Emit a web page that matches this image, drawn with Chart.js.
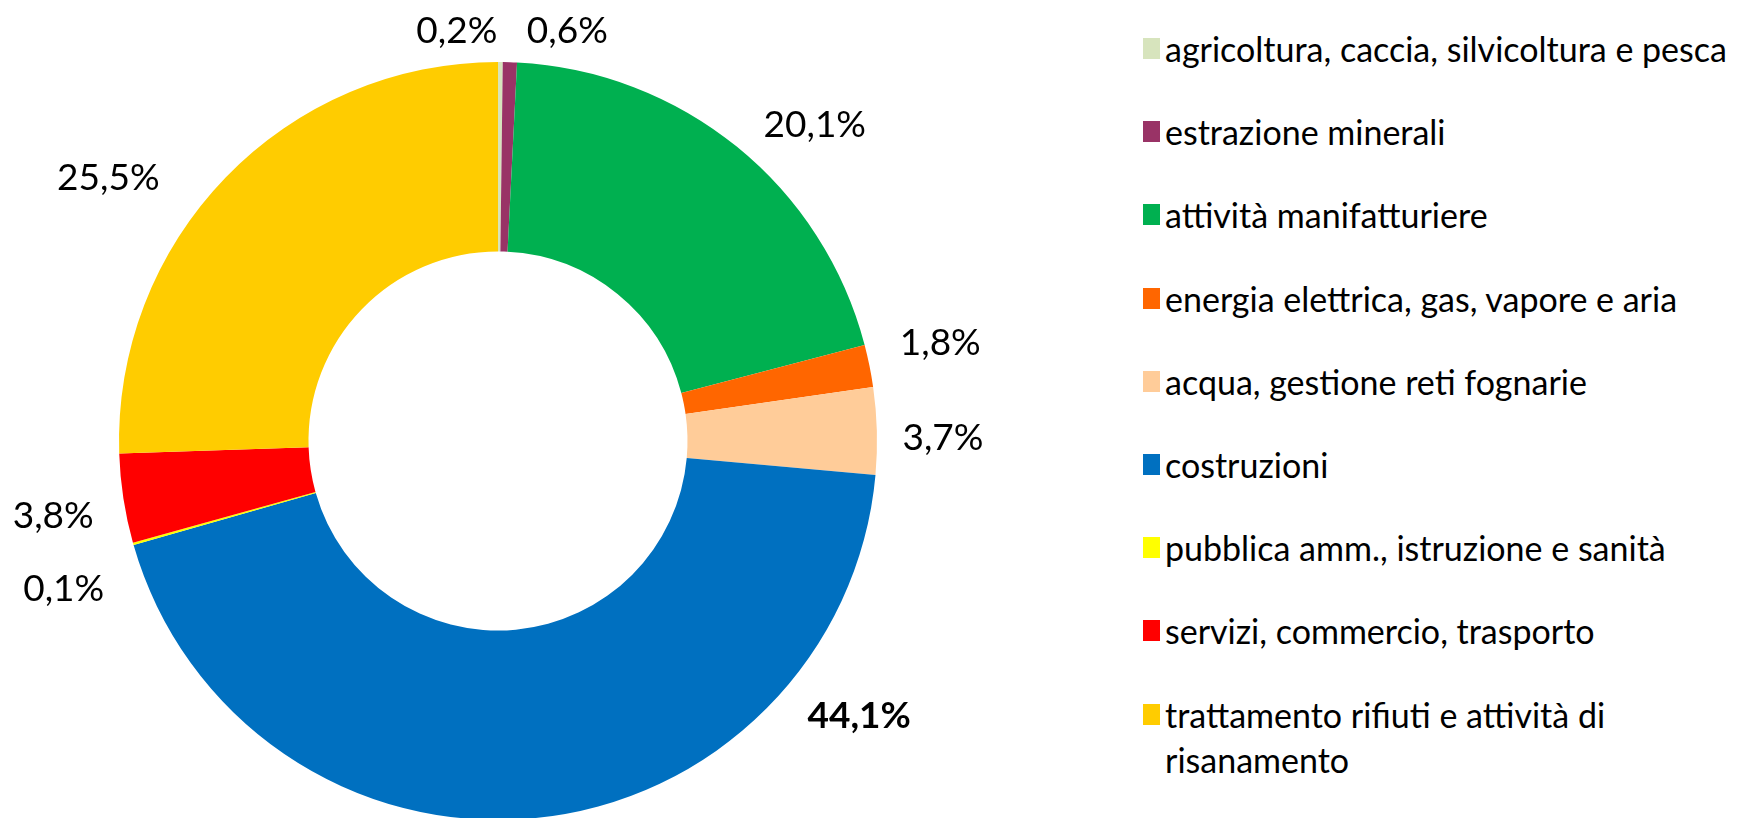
<!DOCTYPE html>
<html>
<head>
<meta charset="utf-8">
<script src="https://cdn.jsdelivr.net/npm/chart.js@4"></script>
<style>
  body { margin: 0; width: 1748px; height: 818px; overflow: hidden; background: #fff; font-family: Lato, sans-serif; }
  #wrap { position: absolute; left: 0; top: 0; width: 996px; height: 882px; }
  #legend { position: absolute; left: 1143px; top: 26px; width: 640px; margin: 0; padding: 0; list-style: none; }
  #legend li { display: flex; align-items: flex-start; height: 83.2px; font-size: 34px; line-height: 45px; color: #000; }
  #legend .box { width: 17px; height: 21px; margin: 12px 5px 0 0; flex: none; }
  #legend .txt { width: 590px; flex: none; }
</style>
</head>
<body>
<div id="wrap"><canvas id="pie" width="996" height="882"></canvas></div>
<ul id="legend"></ul>
<script>
const sectors = [
  'agricoltura, caccia, silvicoltura e pesca',
  'estrazione minerali',
  'attività manifatturiere',
  'energia elettrica, gas, vapore e aria',
  'acqua, gestione reti fognarie',
  'costruzioni',
  'pubblica amm., istruzione e sanità',
  'servizi, commercio, trasporto',
  'trattamento rifiuti e attività di risanamento'
];
const shares = [0.2, 0.6, 20.1, 1.8, 3.7, 44.1, 0.1, 3.8, 25.5];
const colors = ['#D7E4BD', '#993366', '#00B050', '#FF6600', '#FFCC99', '#0070C0', '#FFFF00', '#FF0000', '#FFCC00'];

// label nudges: [angle shift in degrees, distance as a fraction of the outer radius]
const labelPlacement = [
  [-6.1, 1.087], [7.8, 1.097], [6, 1.18], [-1, 1.195], [1.2, 1.174],
  [-47.3, 1.198], [-3.1, 1.211], [-0.8, 1.19], [-10, 1.241]
];

const pctLabels = {
  id: 'pctLabels',
  afterDatasetsDraw(chart) {
    const ctx = chart.ctx;
    const meta = chart.getDatasetMeta(0);
    ctx.save();
    ctx.fillStyle = '#000';
    ctx.textAlign = 'center';
    ctx.textBaseline = 'middle';
    meta.data.forEach((arc, i) => {
      const p = arc.getProps(['x', 'y', 'startAngle', 'endAngle', 'outerRadius'], true);
      const [shift, dist] = labelPlacement[i];
      const a = (p.startAngle + p.endAngle) / 2 + shift * Math.PI / 180;
      ctx.font = (i === 5 ? 'bold ' : '') + '37px Lato';
      const txt = shares[i].toFixed(1).replace('.', ',') + '%';
      ctx.fillText(txt, p.x + Math.cos(a) * p.outerRadius * dist, p.y + Math.sin(a) * p.outerRadius * dist);
    });
    ctx.restore();
  }
};

new Chart(document.getElementById('pie'), {
  type: 'doughnut',
  data: {
    labels: sectors,
    datasets: [{
      data: shares,
      backgroundColor: colors,
      borderWidth: 0
    }]
  },
  options: {
    responsive: false,
    devicePixelRatio: 1,
    animation: false,
    cutout: '50%',
    layout: { padding: { top: 62, bottom: 62 } },
    plugins: {
      legend: { display: false },
      tooltip: { enabled: false }
    }
  },
  plugins: [pctLabels]
});

const legend = document.getElementById('legend');
sectors.forEach((name, i) => {
  const li = document.createElement('li');
  li.innerHTML = '<span class="box" style="background:' + colors[i] + '"></span><span class="txt">' + name + '</span>';
  legend.appendChild(li);
});
</script>
</body>
</html>
